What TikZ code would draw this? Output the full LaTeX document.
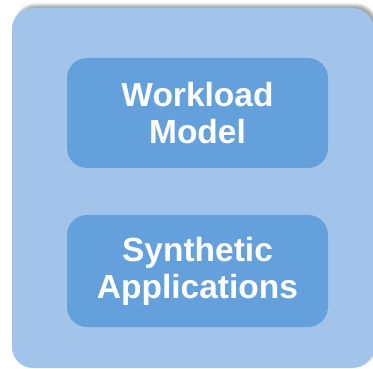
\documentclass[tikz,border=0pt]{standalone}
\usepackage{fontspec}
\setmainfont{Liberation Sans}
\usetikzlibrary{shadows.blur}
\definecolor{panelblue}{RGB}{163,196,234}
\definecolor{boxblue}{RGB}{100,160,220}
\tikzset{
  panel/.style={fill=panelblue, draw=none, rounded corners=21pt,
    blur shadow={shadow xshift=3pt, shadow yshift=3pt, shadow blur steps=6,
      shadow blur radius=2.5pt, shadow opacity=35}},
  block/.style={fill=boxblue, draw=none, rounded corners=20pt,
    minimum width=261pt, minimum height=110pt, inner sep=0pt,
    text=white, font=\fontsize{33.5}{37}\selectfont\bfseries, align=center}
}
\begin{document}
\begin{tikzpicture}[x=1pt, y=-1pt]
  \useasboundingbox (0,0) rectangle (373,369);
  \begin{scope}
    \clip (0,0) rectangle (373,369);
    \path[panel] (12,8) rectangle (373.5,368);
  \end{scope}
  \node[block] (workload) at (197.5,113) {Workload\\Model};
  \node[block, minimum height=112pt] (synthetic) at (197.5,271) {Synthetic\\Applications};
\end{tikzpicture}
\end{document}
